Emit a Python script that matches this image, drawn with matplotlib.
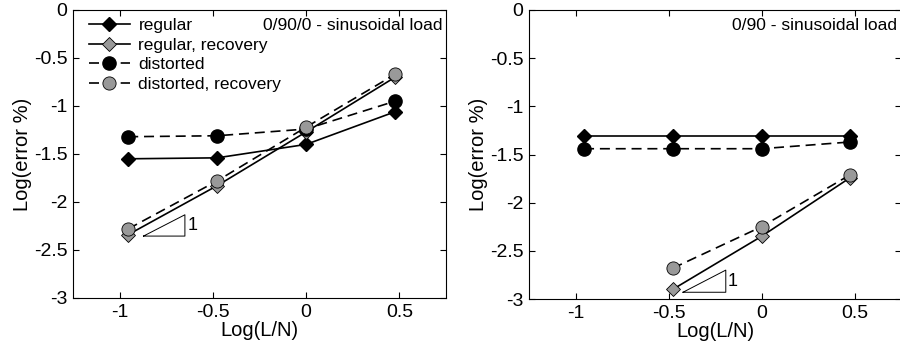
import numpy as np
import matplotlib
matplotlib.use('Agg')
import matplotlib.pyplot as plt

plt.rcParams['font.family'] = ['Liberation Sans', 'DejaVu Sans']

# log10(L/N)
x = [-0.954, -0.477, 0.0, 0.477]
x_rec2 = [-0.477, 0.0, 0.477]

# 0/90/0 panel
reg1 = [-1.55, -1.54, -1.40, -1.06]
reg_rec1 = [-2.34, -1.83, -1.27, -0.70]
dist1 = [-1.32, -1.31, -1.24, -0.95]
dist_rec1 = [-2.28, -1.78, -1.22, -0.67]

# 0/90 panel
reg2 = [-1.31, -1.31, -1.31, -1.31]
dist2 = [-1.44, -1.44, -1.44, -1.37]
reg_rec2 = [-2.90, -2.35, -1.74]
dist_rec2 = [-2.68, -2.25, -1.71]

# slope triangles (x0, x1, y0)
tri1 = (-0.872, -0.65, -2.355)
tri2 = (-0.422, -0.192, -2.93)

labels = ['regular', 'regular, recovery', 'distorted', 'distorted, recovery']
titles = ['0/90/0 - sinusoidal load', '0/90 - sinusoidal load']

gray = '0.6'
lw = 1.2
dash = (6, 3.5)

fig = plt.figure(figsize=(9, 3.54), dpi=100)
ax1 = fig.add_axes([73/900, 56/354, 373/900, 288/354])
ax2 = fig.add_axes([529/900, 55/354, 372/900, 289/354])


def triangle(ax, t):
    x0, x1, y0 = t
    y1 = y0 + (x1 - x0)
    ax.plot([x0, x1, x1, x0], [y0, y0, y1, y0], color='k', lw=0.7)
    ax.text(x1 + 0.012, (y0 + y1) / 2, '1', fontsize=13, va='center', ha='left')


def style(ax, title):
    ax.set_xlim(-1.25, 0.75)
    ax.set_ylim(-3, 0)
    ax.set_xticks([-1, -0.5, 0, 0.5])
    ax.set_xticklabels(['-1', '-0.5', '0', '0.5'])
    ax.set_yticks([0, -0.5, -1, -1.5, -2, -2.5, -3])
    ax.set_yticklabels(['0', '-0.5', '-1', '-1.5', '-2', '-2.5', '-3'])
    ax.tick_params(direction='in', top=True, right=True, labelsize=14, length=4, width=0.8, pad=4)
    ax.set_xlabel('Log(L/N)', fontsize=14.5, labelpad=0)
    ax.set_ylabel('Log(error %)', fontsize=14.5, labelpad=1)
    ax.text(0.99, 0.945, title, transform=ax.transAxes, ha='right', va='center', fontsize=12.5)


# left panel
ax1.plot(x, reg1, '-', color='k', lw=lw, marker='D', ms=7, mfc='k', mec='k', label=labels[0])
ax1.plot(x, reg_rec1, '-', color='k', lw=lw, marker='D', ms=7, mfc=gray, mec='k', mew=0.6, label=labels[1])
ax1.plot(x, dist1, '--', color='k', lw=lw, dashes=dash, marker='o', ms=9.5, mfc='k', mec='k', label=labels[2])
ax1.plot(x, dist_rec1, '--', color='k', lw=lw, dashes=dash, marker='o', ms=9.5, mfc=gray, mec='k', mew=0.6, label=labels[3])
triangle(ax1, tri1)
style(ax1, titles[0])
ax1.legend(loc='upper left', bbox_to_anchor=(0.015, 1.008), frameon=False, fontsize=12.5,
           handlelength=2.35, handletextpad=0.5, labelspacing=0.25, borderaxespad=0.2)

# right panel
ax2.plot(x, reg2, '-', color='k', lw=lw, marker='D', ms=7, mfc='k', mec='k')
ax2.plot(x_rec2, reg_rec2, '-', color='k', lw=lw, marker='D', ms=7, mfc=gray, mec='k', mew=0.6)
ax2.plot(x, dist2, '--', color='k', lw=lw, dashes=dash, marker='o', ms=9.5, mfc='k', mec='k')
ax2.plot(x_rec2, dist_rec2, '--', color='k', lw=lw, dashes=dash, marker='o', ms=9.5, mfc=gray, mec='k', mew=0.6)
triangle(ax2, tri2)
style(ax2, titles[1])
for a in (ax1, ax2):
    for c in a.lines:
        c.set_clip_on(False)

fig.savefig('out.png', dpi=100)
